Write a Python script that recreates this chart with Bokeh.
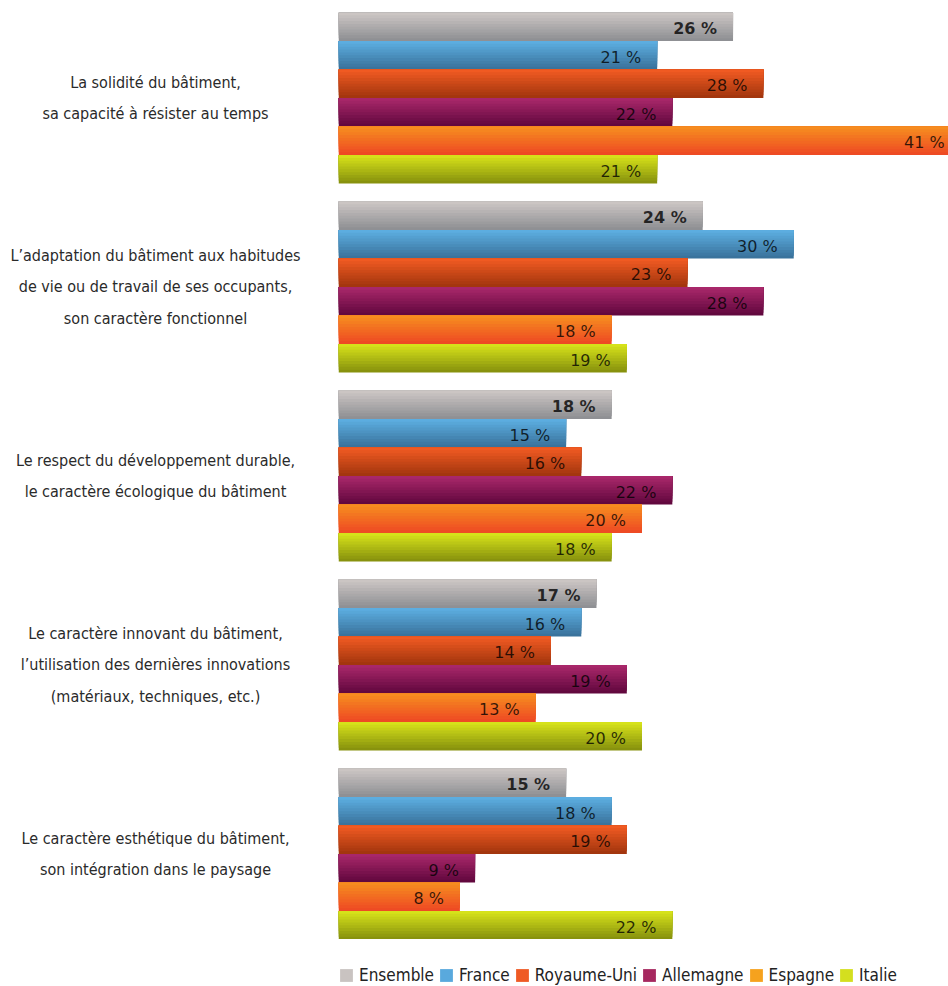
from bokeh.plotting import figure
from bokeh.models import ColumnDataSource, FactorRange, Range1d, Legend, LegendItem
from bokeh.transform import dodge
from bokeh.layouts import row, column
from bokeh.core.properties import value
from bokeh.embed import file_html
from bokeh.resources import INLINE

categories = [
    "La solidité du bâtiment,\nsa capacité à résister au temps",
    "L’adaptation du bâtiment aux habitudes\nde vie ou de travail de ses occupants,\nson caractère fonctionnel",
    "Le respect du développement durable,\nle caractère écologique du bâtiment",
    "Le caractère innovant du bâtiment,\nl’utilisation des dernières innovations\n(matériaux, techniques, etc.)",
    "Le caractère esthétique du bâtiment,\nson intégration dans le paysage",
]
series = ["Ensemble", "France", "Royaume-Uni", "Allemagne", "Espagne", "Italie"]
ensemble = [26, 24, 18, 17, 15]
france = [21, 30, 15, 16, 18]
royaume_uni = [28, 23, 16, 14, 19]
allemagne = [22, 28, 22, 19, 9]
espagne = [41, 18, 20, 13, 8]
italie = [21, 19, 18, 20, 22]
values_by_series = [ensemble, france, royaume_uni, allemagne, espagne, italie]

top_colors = ["#cbc5c3", "#5cade0", "#f05a22", "#a8276a", "#f68c1f", "#d6e21a"]
bottom_colors = ["#8f9094", "#3a739c", "#a3360e", "#62083e", "#ee4b24", "#88920e"]
legend_colors = ["#c9c3c1", "#59a9dd", "#ef5a24", "#a6285f", "#f6a21e", "#d4df1f"]

FONT_CAT = "DejaVu Sans Condensed, Liberation Sans Narrow, Roboto Condensed, Roboto, sans-serif"
FONT_VAL = "DejaVu Sans"

factors = [(c, s) for c in reversed(categories) for s in reversed(series)]
y_range = FactorRange(factors=factors, range_padding=0, group_padding=0.63)

TOP = 12
FRAME_H = 927
H = TOP + FRAME_H
LEG_H = 47

p = figure(width=610, height=H, y_range=y_range, x_range=Range1d(0, 40.2),
           output_backend="svg", toolbar_location=None,
           min_border_left=0, min_border_right=0, min_border_top=TOP, min_border_bottom=0)
p.axis.visible = False
p.grid.visible = False
p.outline_line_color = None

def hex2rgb(h):
    h = h.lstrip("#")
    return [int(h[i:i + 2], 16) for i in (0, 2, 4)]

def mix(a, b, t):
    ra, rb = hex2rgb(a), hex2rgb(b)
    return "#%02x%02x%02x" % tuple(int(round(ra[i] + (rb[i] - ra[i]) * t)) for i in range(3))

N = 10
for si, (s, vals) in enumerate(zip(series, values_by_series)):
    src = ColumnDataSource(dict(
        y=[(c, s) for c in categories],
        v=vals,
        lbl=["%d %%" % v for v in vals],
    ))
    for k in range(N):
        t = 1 - k / (N - 1)
        col = mix(top_colors[si], bottom_colors[si], t)
        off = k / (2 * N)
        hgt = 1 - k / N
        p.hbar(y=dodge("y", off, range=y_range), left=0, right="v", height=hgt,
               source=src, fill_color=col, line_color=None)
    p.text(x="v", y="y", text="lbl", source=src, x_offset=-16, y_offset=2,
           text_align="right", text_baseline="middle",
           text_font=value(FONT_VAL), text_font_size="16px",
           text_font_style="bold" if s == "Ensemble" else "normal",
           text_color="#000000", text_alpha=0.78)

left = figure(width=338, height=H, y_range=y_range, x_range=Range1d(0, 338),
              output_backend="svg", toolbar_location=None,
              min_border_left=0, min_border_right=0, min_border_top=TOP, min_border_bottom=0)
left.axis.visible = False
left.grid.visible = False
left.outline_line_color = None
csrc = ColumnDataSource(dict(y=categories, t=categories, x=[155] * len(categories)))
left.text(x="x", y="y", text="t", source=csrc, text_align="center", text_baseline="middle",
          text_font=value(FONT_CAT), text_font_size="16px", text_line_height=1.66,
          text_color="#2a2a2a")

lf = figure(width=948, height=LEG_H, x_range=Range1d(0, 1), y_range=Range1d(0, 1),
            output_backend="svg", toolbar_location=None, min_border=0)
lf.axis.visible = False
lf.grid.visible = False
lf.outline_line_color = None
items = []
for si, s in enumerate(series):
    # zero-size proxy glyph, only used to draw the legend swatch
    proxy = lf.hbar(y=[0.5], left=[0], right=[0], height=0, fill_color=legend_colors[si], line_color=None)
    items.append(LegendItem(label=s, renderers=[proxy]))
legend = Legend(items=items, orientation="horizontal", location=(338, 1),
                padding=0, margin=0, spacing=4, label_standoff=5,
                glyph_width=16, glyph_height=16, label_height=20,
                label_text_font=FONT_CAT, label_text_font_size="17px", label_text_color="#222222",
                border_line_alpha=0, background_fill_alpha=0)
lf.add_layout(legend)

layout = column(row(left, p), lf)
open("out.html", "w").write(file_html(layout, INLINE))
